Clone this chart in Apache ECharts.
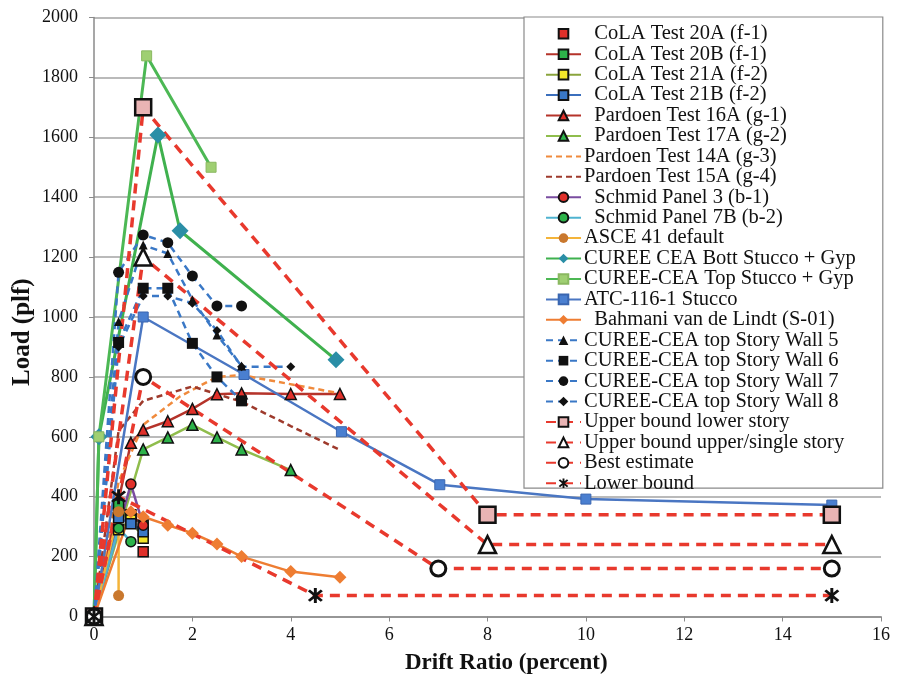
<!DOCTYPE html>
<html><head><meta charset="utf-8">
<script src="https://cdn.jsdelivr.net/npm/echarts@6/dist/echarts.min.js"></script>
<style>html,body{margin:0;padding:0;background:#fff}#c{width:899px;height:683px}</style>
</head><body><div id="c"></div>
<script>
// ---- data: [drift %, load plf] ----
var cola20A = [[0,0],[0.5,345],[0.75,335],[1,216]];
var cola20B = [[0,0],[0.5,372],[0.75,340],[1,305]];
var cola21A = [[0,0],[0.5,290],[0.75,322],[1,261]];
var cola21B = [[0,0],[0.5,330],[0.75,310],[1,283]];
var pardoen16A = [[0,0],[0.75,580],[1,623],[1.5,652],[2,693],[2.5,742],[3,745],[4,743],[5,743]];
var pardoen17A = [[0,0],[1,558],[1.5,598],[2,640],[2.5,598],[3,558],[4,489]];
var pardoen14A = [[0,0],[0.5,450],[1,640],[1.75,735],[2.5,800],[3,806],[5,745]];
var pardoen15A = [[0,0],[0.5,620],[1,720],[2,768],[3,717],[4,636],[5,556]];
var schmid3 = [[0,0],[0.75,442],[1,305]];
var schmid7B = [[0,0],[0.5,295],[0.75,250]];
var asce41 = [[0,0],[0.5,350],[0.5,70]];
var cureeBott = [[0,0],[0.1,600],[1.3,1608],[1.75,1288],[4.92,857]];
var cureeTop = [[0,0],[0.1,600],[1.07,1872],[2.38,1500]];
var atc116 = [[0,0],[1,1000],[3.05,808],[5.03,617],[7.03,440],[10,392],[15,372]];
var bahmani = [[0,0],[0.75,350],[1,333],[1.5,305],[2,278],[2.5,242],[3,200],[4,150],[5,131]];
var wall5 = [[0,0],[0.5,985],[1,1240],[1.5,1212],[2,1058],[2.5,940],[3,836]];
var wall6 = [[0,0],[0.5,915],[1,1096],[1.5,1096],[2,912],[2.5,800],[3,720]];
var wall7 = [[0,0],[0.5,1149],[1,1274],[1.5,1248],[2,1137],[2.5,1037],[3,1037]];
var wall8 = [[0,0],[0.5,900],[1,1070],[1.5,1070],[2,1046],[2.5,955],[3,834],[4,834]];
var ubLower = [[0,0],[1,1700],[8,340],[15,340]];
var ubUpper = [[0,0],[1,1200],[8,240],[15,240]];
var bestEst = [[0,0],[1,800],[7,160],[15,160]];
var lowerB = [[0,0],[0.5,400],[4.5,70],[15,70]];

var xTicks = {min:0, max:16, step:2};
var yTicks = {min:0, max:2000, step:200};
var xTitle = 'Drift Ratio (percent)';
var yTitle = 'Load (plf)';

var FONT = "'Liberation Serif','Times New Roman',serif";
var ASTER = 'path://M4.2 0L5.8 0L5.8 10L4.2 10Z M0.934 2.066L2.066 0.934L9.066 7.934L7.934 9.066Z M7.934 0.934L9.066 2.066L2.066 9.066L0.934 7.934Z';

function L(name, data, color, width, dash, symbol, size, fill, border, bw){
  return {
    name: name, type: 'line', data: data, symbol: symbol, symbolSize: size,
    showAllSymbol: true, animation: false,
    lineStyle: {color: color, width: width, type: dash ? dash : 'solid'},
    itemStyle: {color: fill, borderColor: border || fill, borderWidth: bw || 0},
    emphasis: {disabled: true}
  };
}
var RED = '#e8392d';
var BLUEDASH = '#3a78c6';
var NONE = 'rgba(0,0,0,0)';
var series = [
  L('  CoLA Test 20A (f-1)', cola20A, NONE, 0, null, 'rect', 10, '#e0302a', '#111', 1.5),
  L('  CoLA Test 20B (f-1)', cola20B, '#b5332a', 2.5, null, 'rect', 10, '#2db34a', '#111', 1.5),
  L('  CoLA Test 21A (f-2)', cola21A, '#8aa43c', 2.5, null, 'rect', 10, '#f3e62a', '#111', 1.5),
  L('  CoLA Test 21B (f-2)', cola21B, '#3b6fbd', 2.5, null, 'rect', 10, '#3a78c6', '#111', 1.5),
  L('  Pardoen Test 16A (g-1)', pardoen16A, '#b5332a', 2.5, null, 'triangle', 11, '#e0302a', '#111', 1.5),
  L('  Pardoen Test 17A (g-2)', pardoen17A, '#8fbd4c', 2.5, null, 'triangle', 11, '#2db34a', '#111', 1.5),
  L('Pardoen Test 14A (g-3)', pardoen14A, '#f08a3c', 2.5, [6,4], 'circle', 0, NONE),
  L('Pardoen Test 15A (g-4)', pardoen15A, '#9e3a2c', 2.5, [6,4], 'circle', 0, NONE),
  L('  Schmid Panel 3 (b-1)', schmid3, '#7a4da0', 2.5, null, 'circle', 10, '#e0302a', '#111', 1.5),
  L('  Schmid Panel 7B (b-2)', schmid7B, '#4fb3d0', 2.5, null, 'circle', 10, '#2db34a', '#111', 1.5),
  L('ASCE 41 default', asce41, '#f4b43a', 2.5, null, 'circle', 11, '#c9782e'),
  L('CUREE CEA Bott Stucco + Gyp', cureeBott, '#3fb14e', 3, null, 'diamond', 17, '#2a8ea6'),
  L('CUREE-CEA Top Stucco + Gyp', cureeTop, '#4cb854', 3, null, 'rect', 10, '#9fcf72', '#8ab860', 1),
  L('ATC-116-1 Stucco', atc116, '#4a76c2', 2.5, null, 'rect', 10, '#4a7fd0', '#3a66b0', 1),
  L('  Bahmani van de Lindt (S-01)', bahmani, '#ee7d32', 2.5, null, 'diamond', 13, '#ee7d32'),
  L('CUREE-CEA top Story Wall 5', wall5, BLUEDASH, 2.5, [7,5], 'triangle', 9, '#111'),
  L('CUREE-CEA top Story Wall 6', wall6, BLUEDASH, 2.5, [7,5], 'rect', 11, '#111'),
  L('CUREE-CEA top Story Wall 7', wall7, BLUEDASH, 2.5, [7,5], 'circle', 11, '#111'),
  L('CUREE-CEA top Story Wall 8', wall8, BLUEDASH, 2.5, [7,5], 'diamond', 9, '#111'),
  L('Upper bound lower story', ubLower, RED, 3.5, [10,7], 'rect', 16, '#e9b4b4', '#111', 2.5),
  L('Upper bound upper/single story', ubUpper, RED, 3.5, [10,7], 'triangle', 17, '#fff', '#111', 2.5),
  L('Best estimate', bestEst, RED, 3.5, [10,7], 'circle', 15, '#fff', '#111', 3),
  L('Lower bound', lowerB, RED, 3.5, [10,7], ASTER, 15, '#111')
];

var chart = echarts.init(document.getElementById('c'), null, {renderer:'canvas'});
chart.setOption({
  backgroundColor: '#fff',
  animation: false,
  textStyle: {fontFamily: FONT},
  grid: {left: 94, right: 18, top: 17.5, bottom: 66.5, containLabel: false},
  xAxis: {
    type: 'value', min: xTicks.min, max: xTicks.max, interval: xTicks.step,
    axisLine: {lineStyle: {color: '#8a8a8a', width: 1.5}},
    axisTick: {show: true, length: 5, lineStyle: {color: '#8a8a8a'}},
    axisLabel: {fontFamily: FONT, fontSize: 18, color: '#111', margin: 10, formatter: function(v){return String(v);}},
    splitLine: {show: false}
  },
  yAxis: {
    type: 'value', min: yTicks.min, max: yTicks.max, interval: yTicks.step,
    axisLine: {show: true, lineStyle: {color: '#8a8a8a', width: 1.5}},
    axisTick: {show: true, length: 5, lineStyle: {color: '#8a8a8a'}},
    axisLabel: {fontFamily: FONT, fontSize: 18, color: '#111', margin: 16, formatter: function(v){return String(v);}},
    splitLine: {show: true, lineStyle: {color: '#a3a3a3', width: 1.5}}
  },
  graphic: [
    {type:'text', left: 405, top: 652, style:{text: xTitle, font: "bold 23px 'Liberation Serif','Times New Roman',serif", fill:'#111'}},
    {type:'text', x: 10, y: 386, rotation: Math.PI/2, style:{text: yTitle, font: "bold 25px 'Liberation Serif','Times New Roman',serif", fill:'#111'}}
  ],
  legend: {
    orient: 'vertical', left: 524, top: 17,
    padding: [5, 27, -7, 21],
    backgroundColor: '#fff', borderColor: '#8a8a8a', borderWidth: 1.2,
    itemWidth: 35, itemHeight: 12, itemGap: -3.17,
    textStyle: {fontFamily: FONT, fontSize: 20.5, color: '#111', lineHeight: 23.6, padding:[0,0,0,-2]},
    data: series.map(function(s){return s.name;})
  },
  series: series
});
</script></body></html>
